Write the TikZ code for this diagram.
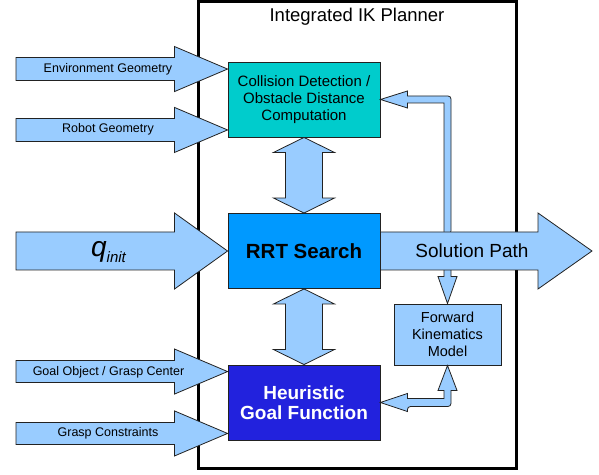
\documentclass[tikz,border=0pt]{standalone}
\usepackage{fontspec}
\setmainfont{Liberation Sans}
\usetikzlibrary{calc}
\definecolor{arrowblue}{HTML}{99CCFF}
\definecolor{cdcol}{HTML}{00CCCC}
\definecolor{rrtcol}{HTML}{0099FF}
\definecolor{hgfcol}{HTML}{2222DD}
\definecolor{edgecol}{HTML}{222222}
% horizontal fat arrow: #1 tail, #2 tip, #3 half shaft, #4 half head, #5 head length
\newcommand\fatright[5]{%
  \draw[fat] let \p1=(#1), \p2=(#2) in
    (\x1,\y2+#3pt) -- (\x2-#5pt,\y2+#3pt) -- (\x2-#5pt,\y2+#4pt) -- (\p2)
    -- (\x2-#5pt,\y2-#4pt) -- (\x2-#5pt,\y2-#3pt) -- (\x1,\y2-#3pt) -- cycle;}
% vertical double fat arrow: #1 bottom tip, #2 top tip
\newcommand\fatvert[5]{%
  \draw[fat] let \p1=(#1), \p2=(#2) in
    (\p2) -- (\x2+#4pt,\y2-#5pt) -- (\x2+#3pt,\y2-#5pt) -- (\x2+#3pt,\y1+#5pt)
    -- (\x2+#4pt,\y1+#5pt) -- (\x2,\y1) -- (\x2-#4pt,\y1+#5pt) -- (\x2-#3pt,\y1+#5pt)
    -- (\x2-#3pt,\y2-#5pt) -- (\x2-#4pt,\y2-#5pt) -- cycle;}
\begin{document}
\begin{tikzpicture}[x=1pt,y=1pt,
  box/.style={draw=edgecol, line width=0.9pt, minimum width=152pt, minimum height=75pt,
    inner sep=0pt, align=center, font=\fontsize{15}{17}\selectfont},
  fat/.style={fill=arrowblue, draw=edgecol, line width=0.8pt, line join=miter},
  lbl/.style={font=\fontsize{12.5}{14}\selectfont, inner sep=0pt}]
\useasboundingbox (0,0) rectangle (599,474);
\node[draw=black, line width=3pt, minimum width=318pt, minimum height=466pt, inner sep=0pt] (planner) at (357,239) {};
\node[font=\fontsize{18.5}{20}\selectfont, inner sep=0pt] (title) at (357,457) {Integrated IK Planner};
% boxes
\node[box, fill=cdcol] (cd) at (304,374.5) {Collision Detection /\\Obstacle Distance\\Computation};
\node[box, fill=rrtcol, font=\bfseries\fontsize{20.5}{24}\selectfont] (rrt) at (304,223) {RRT Search};
\node[box, fill=hgfcol, text=white, font=\bfseries\fontsize{19}{20}\selectfont] (hgf) at (304,71.5) {Heuristic\\Goal Function};
\node[box, fill=arrowblue, minimum width=107pt, minimum height=61pt, font=\fontsize{14.5}{17}\selectfont] (fk) at (447.5,139.5) {Forward\\Kinematics\\Model};
% free ends of input arrows
\coordinate (envS) at (16,404.5);
\coordinate (robS) at (16,344.5);
\coordinate (qS) at (16,223);
\coordinate (goalS) at (16,102);
\coordinate (graspS) at (16,41);
\coordinate (envT) at ($(cd.north west)+(0,-7.5)$);
\coordinate (robT) at ($(cd.south west)+(0,7.5)$);
\coordinate (goalT) at ($(hgf.north west)+(0,-7)$);
\coordinate (graspT) at ($(hgf.south west)+(0,7)$);
\coordinate (solT) at (592,223);
% input arrows
\fatright{envS}{envT}{11.5}{22.5}{53}
\fatright{robS}{robT}{11.5}{22.5}{53}
\fatright{qS}{rrt.west}{19}{38}{53}
\fatright{goalS}{goalT}{11}{22.5}{53}
\fatright{graspS}{graspT}{11}{22.5}{53}
% vertical double arrows
\fatvert{rrt.north}{cd.south}{18.5}{30.5}{15}
\fatvert{hgf.north}{rrt.south}{18.5}{30.5}{15}
% feedback to collision detection
\draw[fat] let \p1=(fk.north), \p2=(cd.east), \p3=(rrt.east) in
  (\x1-3.5pt,\y3+17pt) -- (\x1-3.5pt,\y2-3.5pt) -- (\x2+27pt,\y2-3.5pt) -- (\x2+27pt,\y2-8.5pt)
  -- (\p2) -- (\x2+27pt,\y2+8.5pt) -- (\x2+27pt,\y2+3.5pt)
  {[rounded corners=3pt] -- (\x1+3.5pt,\y2+3.5pt) -- (\x1+3.5pt,\y3+17pt)} -- cycle;
% solution path down to forward kinematics
\draw[fat] let \p1=(fk.north), \p3=(rrt.east) in
  (\x1-3.5pt,\y3-17pt) -- (\x1-3.5pt,\y1+27pt) -- (\x1-9.5pt,\y1+27pt) -- (\p1)
  -- (\x1+9.5pt,\y1+27pt) -- (\x1+3.5pt,\y1+27pt) -- (\x1+3.5pt,\y3-17pt) -- cycle;
% forward kinematics <-> heuristic goal function
\draw[fat] let \p1=(fk.south), \p2=(hgf.east) in
  (\p1) -- (\x1+9.5pt,\y1-25pt) -- (\x1+3.5pt,\y1-25pt)
  {[rounded corners=3pt] -- (\x1+3.5pt,\y2-4pt) -- (\x2+27pt,\y2-4pt)}
  -- (\x2+27pt,\y2-9pt) -- (\p2) -- (\x2+27pt,\y2+9pt) -- (\x2+27pt,\y2+4pt)
  -- (\x1-3.5pt,\y2+4pt) -- (\x1-3.5pt,\y1-25pt) -- (\x1-9.5pt,\y1-25pt) -- cycle;
% solution path
\fatright{rrt.east}{solT}{19}{38}{54}
% labels
\node[lbl] (envL) at (108,404.5) {Environment Geometry};
\node[lbl] (robL) at (108,344.5) {Robot Geometry};
\node[lbl] (goalL) at (108.5,102) {Goal Object / Grasp Center};
\node[lbl] (graspL) at (108,41) {Grasp Constraints};
\node[inner sep=0pt] (qL) at (108.5,222) {\itshape\fontsize{28}{28}\selectfont q\raisebox{-6pt}{\fontsize{15}{15}\selectfont init}};
\node[inner sep=0pt, font=\fontsize{19}{20}\selectfont] (solL) at (472,223) {Solution Path};
\end{tikzpicture}
\end{document}
